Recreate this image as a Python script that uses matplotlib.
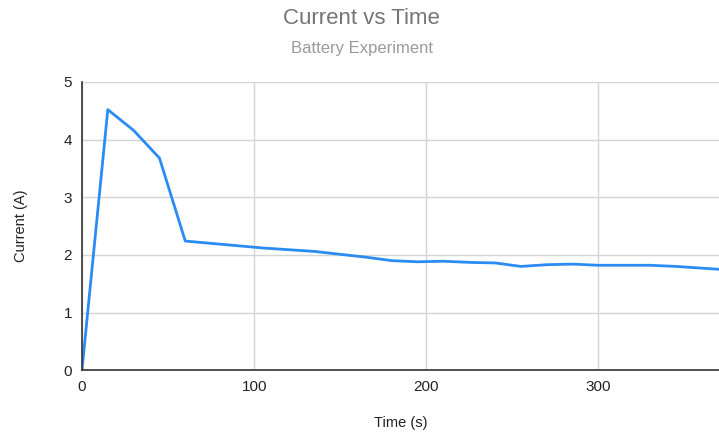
import matplotlib
matplotlib.use('Agg')
import matplotlib.pyplot as plt

# time (s) and current (A)
time_s = [0, 15, 30, 45, 60, 75, 90, 105, 120, 135, 150, 165, 180, 195,
          210, 225, 240, 255, 270, 285, 300, 315, 330, 345, 360, 375]
current_a = [0, 4.52, 4.16, 3.68, 2.24, 2.20, 2.16, 2.12, 2.09, 2.06, 2.01, 1.96, 1.90, 1.88,
             1.89, 1.87, 1.86, 1.80, 1.83, 1.84, 1.82, 1.82, 1.82, 1.80, 1.77, 1.74]
x_ticks = [0, 100, 200, 300]
y_ticks = [0, 1, 2, 3, 4, 5]

plt.rcParams['font.family'] = ['Liberation Sans', 'DejaVu Sans']

fig = plt.figure(figsize=(7.19, 4.36), dpi=100)
ax = fig.add_axes([0.114, 0.151, 0.886, 0.661])

ax.plot(time_s, current_a, color='#2a8cf2', linewidth=2.0, clip_on=True)

ax.set_xlim(0, 370)
ax.set_ylim(0, 5)
ax.set_xticks(x_ticks)
ax.set_yticks(y_ticks)
ax.grid(True, color='#d4d4d4', linewidth=1.0)
ax.set_axisbelow(True)
ax.tick_params(length=0, labelsize=11, colors='#222222', pad=7)
for s in ['top', 'right']:
    ax.spines[s].set_visible(False)
for s in ['left', 'bottom']:
    ax.spines[s].set_color('#333333')
    ax.spines[s].set_linewidth(1.2)

ax.set_xlabel('Time (s)', fontsize=10.5, color='#222222', labelpad=16)
ax.set_ylabel('Current (A)', fontsize=10.5, color='#222222', labelpad=26)

fig.text(0.503, 0.958, 'Current vs Time', ha='center', va='center', fontsize=16, color='#757575')
fig.text(0.503, 0.889, 'Battery Experiment', ha='center', va='center', fontsize=12, color='#9a9a9a')

fig.savefig('out.png', dpi=100)
